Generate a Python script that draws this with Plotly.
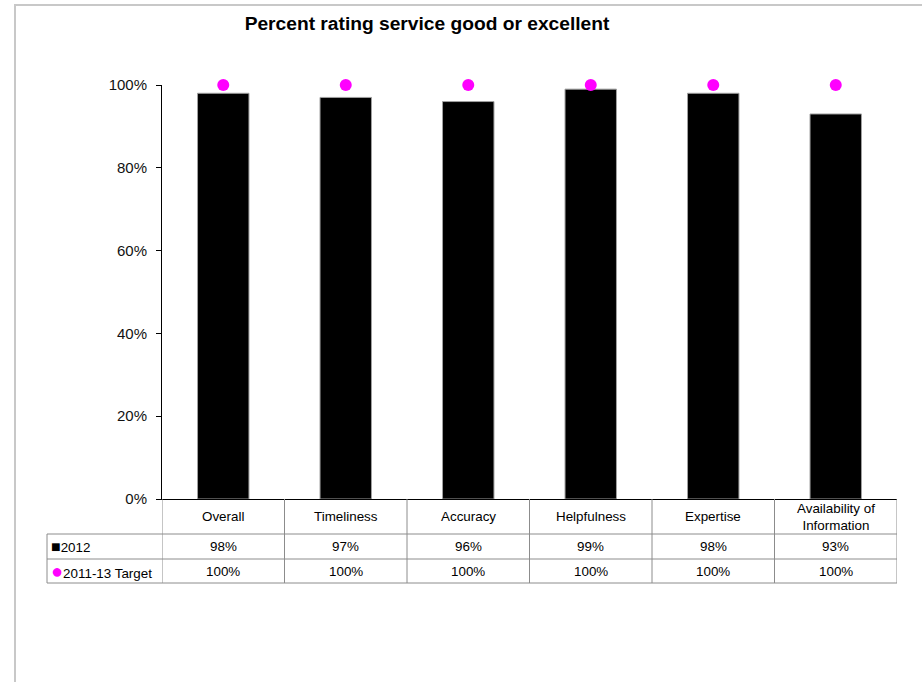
import plotly.graph_objects as go

categories = ["Overall", "Timeliness", "Accuracy", "Helpfulness", "Expertise", "Availability of<br>Information"]
values_2012 = [0.98, 0.97, 0.96, 0.99, 0.98, 0.93]
values_target = [1.00, 1.00, 1.00, 1.00, 1.00, 1.00]
series_names = ["2012", "2011-13 Target"]
title_text = "Percent rating service good or excellent"
y_ticks = [0, 0.2, 0.4, 0.6, 0.8, 1.0]

FONT = "Arial, Liberation Sans, sans-serif"
W, H = 922, 682
L, R, T, B = 162, 897, 85, 499
pw, ph = R - L, B - T

def px_x(p):
    return (p - L) / pw

def px_y(p):
    return (B - p) / ph

xs = list(range(len(categories)))

fig = go.Figure()
fig.add_trace(go.Bar(
    x=xs, y=values_2012, name=series_names[0], width=0.42,
    marker=dict(color="#000000", line=dict(color="#a0a0a0", width=1)),
    hoverinfo="y"))
fig.add_trace(go.Scatter(
    x=xs, y=values_target, name=series_names[1], mode="markers",
    marker=dict(color="#FF00FF", size=12, line=dict(width=0)),
    cliponaxis=False, hoverinfo="y"))

shapes = []
grid_col = "#8c8c8c"
for i in range(len(categories) + 1):
    shapes.append(dict(type="line", xref="x", yref="paper", x0=i - 0.5, x1=i - 0.5,
                       y0=px_y(499), y1=px_y(583), line=dict(color=grid_col, width=1)))
shapes.append(dict(type="line", xref="paper", yref="paper", x0=px_x(47), x1=px_x(47),
                   y0=px_y(534), y1=px_y(583), line=dict(color=grid_col, width=1)))
for yy in (534, 559, 583):
    shapes.append(dict(type="line", xref="paper", yref="paper", x0=px_x(47), x1=1,
                       y0=px_y(yy), y1=px_y(yy), line=dict(color=grid_col, width=1)))
shapes.append(dict(type="line", xref="paper", yref="paper", x0=px_x(14), x1=px_x(W + 5),
                   y0=px_y(5), y1=px_y(5), line=dict(color="#c8c8c8", width=2)))
shapes.append(dict(type="line", xref="paper", yref="paper", x0=px_x(15), x1=px_x(15),
                   y0=px_y(5), y1=px_y(H + 5), line=dict(color="#c8c8c8", width=2)))

tfont = dict(family=FONT, size=13.4, color="#000")
annotations = []
for i, c in enumerate(categories):
    annotations.append(dict(x=i, xref="x", y=px_y(516.5), yref="paper", text=c, showarrow=False,
                            font=tfont, yanchor="middle", xanchor="center"))
    annotations.append(dict(x=i, xref="x", y=px_y(546.5), yref="paper",
                            text=f"{round(values_2012[i]*100)}%", showarrow=False,
                            font=tfont, yanchor="middle"))
    annotations.append(dict(x=i, xref="x", y=px_y(571), yref="paper",
                            text=f"{round(values_target[i]*100)}%", showarrow=False,
                            font=tfont, yanchor="middle"))
annotations.append(dict(x=px_x(49), xref="paper", y=px_y(546.5), yref="paper",
                        text="<span style='font-size:16px'>■</span>" + series_names[0], showarrow=False,
                        font=tfont, xanchor="left", yanchor="middle"))
annotations.append(dict(x=px_x(49), xref="paper", y=px_y(571), yref="paper",
                        text="<span style='color:#FF00FF;font-size:20px'>●</span>" + series_names[1],
                        showarrow=False, font=tfont, xanchor="left", yanchor="middle"))

fig.update_layout(
    width=W, height=H,
    margin=dict(l=L, r=W - R, t=T, b=H - B),
    paper_bgcolor="#ffffff", plot_bgcolor="#ffffff",
    showlegend=False,
    title=dict(text=f"<b>{title_text}</b>", x=427 / W, xanchor="center", xref="container",
               y=1 - 23 / H, yanchor="middle", yref="container",
               font=dict(family=FONT, size=19.2, color="#000")),
    xaxis=dict(range=[-0.5, len(categories) - 0.5], showticklabels=False, ticks="",
               showgrid=False, zeroline=False, showline=True, linecolor="#000", linewidth=1,
               fixedrange=True),
    yaxis=dict(range=[0, 1], tickvals=y_ticks, tickformat=".0%", ticks="outside", ticklen=5,
               tickcolor="#000", showline=True, linecolor="#000", linewidth=1, showgrid=False,
               zeroline=False, tickfont=dict(family=FONT, size=15, color="#111"),
               ticklabelstandoff=6, fixedrange=True),
    shapes=shapes, annotations=annotations,
)

fig.write_html("out.html")
